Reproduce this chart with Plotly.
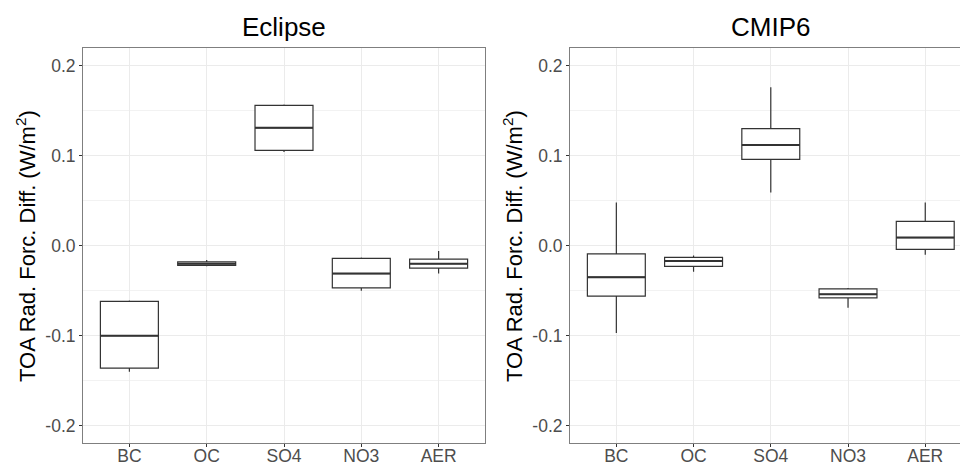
import plotly.graph_objects as go

categories = ["BC", "OC", "SO4", "NO3", "AER"]

eclipse_lower = [-0.140, -0.023, 0.104, -0.050, -0.031]
eclipse_q1 = [-0.136, -0.022, 0.106, -0.047, -0.025]
eclipse_median = [-0.100, -0.020, 0.131, -0.031, -0.020]
eclipse_q3 = [-0.062, -0.018, 0.156, -0.014, -0.015]
eclipse_upper = [-0.061, -0.016, 0.157, -0.013, -0.006]

cmip6_lower = [-0.097, -0.029, 0.059, -0.069, -0.010]
cmip6_q1 = [-0.056, -0.023, 0.096, -0.058, -0.004]
cmip6_median = [-0.035, -0.017, 0.112, -0.054, 0.009]
cmip6_q3 = [-0.009, -0.013, 0.130, -0.048, 0.027]
cmip6_upper = [0.048, -0.011, 0.176, -0.047, 0.048]

y_ticks = [-0.2, -0.1, 0.0, 0.1, 0.2]
y_tick_labels = ["-0.2", "-0.1", "0.0", "0.1", "0.2"]
y_minor_ticks = [-0.15, -0.05, 0.05, 0.15]

panel_titles = ["Eclipse", "CMIP6"]
y_title = "TOA Rad. Forc. Diff. (W/m<sup>2</sup>)"

W, H = 960, 464
FONT = "Liberation Sans, Arial, sans-serif"
LINE = "#333333"

fig = go.Figure()

def add_panel(xa, ya, lower, q1, med, q3, upper):
    fig.add_trace(go.Box(
        x=categories, q1=q1, median=med, q3=q3,
        lowerfence=lower, upperfence=upper,
        xaxis=xa, yaxis=ya, width=0.75, whiskerwidth=0,
        fillcolor="white", line=dict(color=LINE, width=1.2),
        boxpoints=False, showlegend=False, hoverinfo="skip"))
    # thicker median line (ggplot style)
    fig.add_trace(go.Box(
        x=categories, q1=med, median=med, q3=med,
        lowerfence=med, upperfence=med,
        xaxis=xa, yaxis=ya, width=0.75, whiskerwidth=0,
        fillcolor="rgba(0,0,0,0)", line=dict(color=LINE, width=2.0),
        boxpoints=False, showlegend=False, hoverinfo="skip"))

add_panel("x", "y", eclipse_lower, eclipse_q1, eclipse_median, eclipse_q3, eclipse_upper)
add_panel("x2", "y2", cmip6_lower, cmip6_q1, cmip6_median, cmip6_q3, cmip6_upper)

y_dom = [1 - 443 / H, 1 - 48 / H]
y_range = [-0.2193, 0.2197]

common_x = dict(
    type="category", showgrid=True, gridcolor="#ebebeb", gridwidth=1.1,
    ticks="outside", ticklen=3, tickcolor=LINE, tickwidth=1,
    tickfont=dict(family=FONT, size=17.5, color="#4d4d4d"),
    ticklabelstandoff=-6,
    showline=True, linecolor="#7f7f7f", linewidth=1, mirror=True,
    zeroline=False, fixedrange=True, automargin=False,
)
common_y = dict(
    range=y_range, tickmode="array", tickvals=y_ticks, ticktext=y_tick_labels,
    showgrid=True, gridcolor="#ebebeb", gridwidth=1.1,
    minor=dict(tickmode="array", tickvals=y_minor_ticks, showgrid=True,
               gridcolor="#f2f2f2", gridwidth=0.6, ticks=""),
    ticks="outside", ticklen=3, tickcolor=LINE, tickwidth=1,
    tickfont=dict(family=FONT, size=17.5, color="#4d4d4d"),
    showline=True, linecolor="#7f7f7f", linewidth=1,
    zeroline=False, domain=y_dom, fixedrange=True, automargin=False,
)

fig.update_layout(
    width=W, height=H,
    margin=dict(l=0, r=0, t=0, b=0, autoexpand=False),
    paper_bgcolor="white", plot_bgcolor="white",
    boxmode="overlay",
    xaxis=dict(common_x, domain=[83 / W, 485 / W], range=[-0.6, 4.6], anchor="y"),
    yaxis=dict(common_y, mirror=True, anchor="x"),
    xaxis2=dict(common_x, domain=[570 / W, 1.0], range=[-0.6, 4.45], anchor="y2"),
    yaxis2=dict(common_y, mirror=False, anchor="x2"),
)

# panel titles
for name, cx in zip(panel_titles, [(83 + 485) / 2, 770.8]):
    fig.add_annotation(text=name, x=cx / W, y=1 - 27 / H, xref="paper", yref="paper",
                       xanchor="center", yanchor="middle", showarrow=False,
                       font=dict(family=FONT, size=26, color="black"))

# y axis titles
for cx in [26, 513]:
    fig.add_annotation(text=y_title, x=cx / W, y=1 - 246 / H, xref="paper", yref="paper",
                       xanchor="center", yanchor="middle", showarrow=False, textangle=-90,
                       font=dict(family=FONT, size=22, color="black"))

fig.write_html("out.html")
